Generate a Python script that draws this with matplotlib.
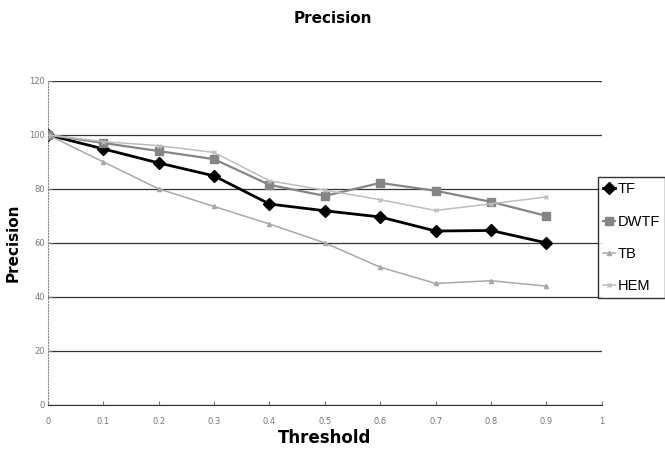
import matplotlib.pyplot as plt

thresholds = [0, 0.1, 0.2, 0.3, 0.4, 0.5, 0.6, 0.7, 0.8, 0.9]
tf = [100, 94.8, 89.6, 84.8, 74.4, 71.9, 69.6, 64.4, 64.6, 60]
dwtf = [100, 97, 94, 91, 81.5, 77.4, 82.2, 79.3, 75.2, 70]
tb = [100, 90, 80, 73.5, 67, 60, 51, 45, 46, 44]
hem = [100, 97.5, 96, 93.5, 83, 79.5, 76, 72, 74.5, 77]

fig = plt.figure(figsize=(6.65, 4.49), dpi=100)
ax = fig.add_axes([0.072, 0.098, 0.833, 0.722])

ax.plot(thresholds, tf, color='black', lw=2, marker='D', ms=6, label='TF')
ax.plot(thresholds, dwtf, color='#858585', lw=1.6, marker='s', ms=6, label='DWTF')
ax.plot(thresholds, tb, color='#a8a8a8', lw=1.1, marker='^', ms=3, label='TB')
ax.plot(thresholds, hem, color='#bdbdbd', lw=1.1, marker='x', ms=3, label='HEM')

ax.set_xlim(0, 1)
ax.set_ylim(0, 120)
ax.set_xticks([i / 10 for i in range(11)])
ax.set_xticklabels(['0', '0.1', '0.2', '0.3', '0.4', '0.5', '0.6', '0.7', '0.8', '0.9', '1'])
ax.set_yticks(range(0, 121, 20))
ax.tick_params(labelsize=6, labelcolor='#777777', color='#777777', length=3, direction='in')
ax.tick_params(axis='x', pad=9)
ax.tick_params(axis='y', pad=2)
ax.yaxis.grid(True, color='#333333', lw=0.9)
ax.set_axisbelow(True)
for s in ['top', 'right']:
    ax.spines[s].set_visible(False)
ax.spines['left'].set_color('#888888')
ax.spines['left'].set_linestyle(':')
ax.spines['bottom'].set_color('#333333')

ax.set_xlabel('Threshold', fontsize=12, fontweight='bold', labelpad=2)
ax.set_ylabel('Precision', fontsize=11, fontweight='bold', labelpad=6)
fig.suptitle('Precision', fontsize=11, fontweight='bold', x=0.5, y=0.975)

leg = fig.legend(loc='upper left', bbox_to_anchor=(0.899, 0.605),
                 prop={'family': 'Liberation Sans', 'size': 10.5},
                 frameon=True, fancybox=False, edgecolor='black', handlelength=0.8,
                 handletextpad=0.2, labelspacing=1.25, borderpad=0.35, borderaxespad=0)
leg.get_frame().set_linewidth(1)

fig.savefig('out.png', dpi=100)
